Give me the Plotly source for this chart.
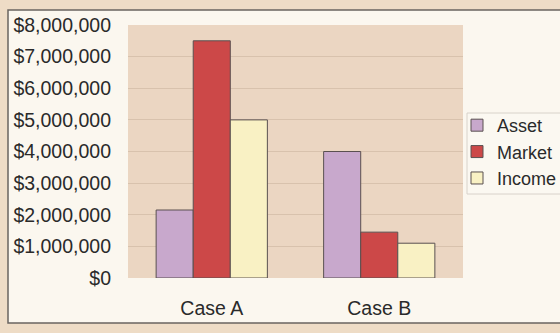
import plotly.graph_objects as go

categories = ["Case A", "Case B"]
asset = [2150000, 4000000]
market = [7500000, 1450000]
income = [5000000, 1100000]
tick_vals = [0, 1000000, 2000000, 3000000, 4000000, 5000000, 6000000, 7000000, 8000000]
tick_text = ["$0", "$1,000,000", "$2,000,000", "$3,000,000", "$4,000,000",
             "$5,000,000", "$6,000,000", "$7,000,000", "$8,000,000"]

fig = go.Figure()
line = dict(color="#5a5050", width=1)
fig.add_trace(go.Bar(name="Asset", x=categories, y=asset, marker=dict(color="#c8a8cc", line=line)))
fig.add_trace(go.Bar(name="Market", x=categories, y=market, marker=dict(color="#cc4848", line=line)))
fig.add_trace(go.Bar(name="Income", x=categories, y=income, marker=dict(color="#f9f1c4", line=line)))

fig.update_layout(
    width=560, height=333,
    margin=dict(l=128, r=97, t=25, b=55, autoexpand=False),
    paper_bgcolor="#eedcc6",
    plot_bgcolor="#ebd6c2",
    barmode="group",
    bargap=0.336,
    bargroupgap=0,
    font=dict(family="Liberation Sans, Arial, sans-serif", size=19.5, color="#2a2a2a"),
    showlegend=True,
    legend=dict(
        x=(457 - 128) / 335, y=0.676, xanchor="left", yanchor="top",
        bgcolor="rgba(0,0,0,0)", borderwidth=0,
        font=dict(size=18, color="#2a2a2a"),
        itemwidth=30, tracegroupgap=0,
    ),
    shapes=[
        dict(type="rect", xref="paper", yref="paper",
             x0=-120/335, x1=1.4, y0=-45/253, y1=268/253,
             line=dict(color="#6a6460", width=1.5),
             fillcolor="#fbf7ef", layer="below"),
        dict(type="rect", xref="paper", yref="paper",
             x0=0, x1=1, y0=0, y1=1,
             line=dict(width=0),
             fillcolor="#ebd6c2", layer="below"),
        dict(type="rect", xref="paper", yref="paper",
             x0=(467 - 128) / 335, x1=1.4, y0=(278 - 194) / 253, y1=(278 - 113) / 253,
             line=dict(color="#d8d2ca", width=1),
             fillcolor="#fbf8f1", layer="below"),
    ],
)
fig.update_yaxes(
    range=[0, 8000000], tickvals=tick_vals, ticktext=tick_text,
    showgrid=True, gridcolor="#d8c2ad", gridwidth=1,
    zeroline=False, showline=False, ticks="",
    ticklabelstandoff=16, automargin=False,
)
fig.update_xaxes(showgrid=False, showline=False, ticks="", ticklabelstandoff=16, automargin=False)

fig.write_html("out.html", config={"displayModeBar": False},
               post_script="document.body.style.margin='0';document.body.style.background='#eedcc6';")
